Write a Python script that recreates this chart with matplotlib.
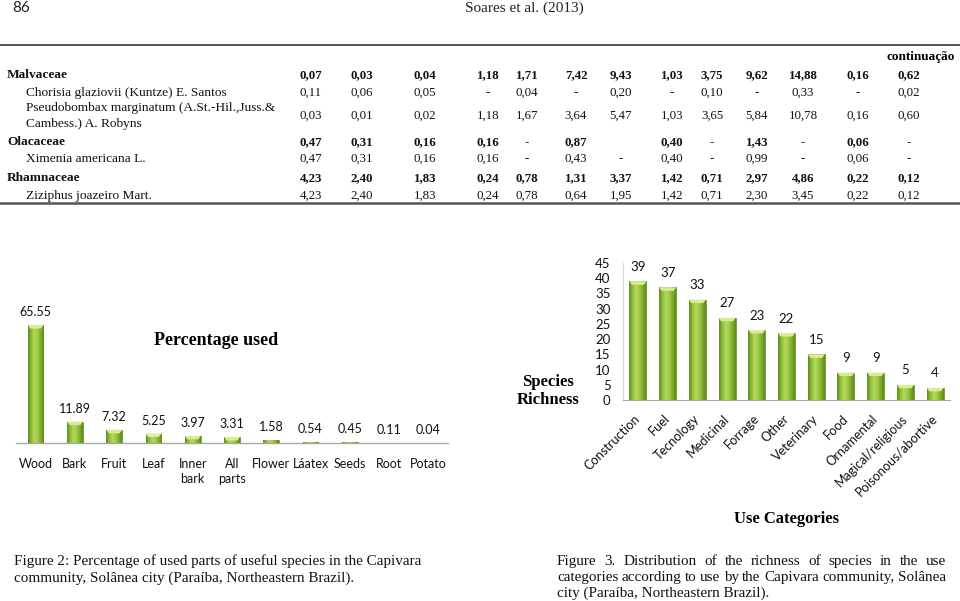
import numpy as np
import matplotlib
matplotlib.use("Agg")
import matplotlib.pyplot as plt
from matplotlib.colors import LinearSegmentedColormap
from matplotlib.patches import Polygon

# ---------------- data ----------------
table_names = ["Malvaceae", "Chorisia glaziovii (Kuntze) E. Santos",
               "Pseudobombax marginatum (A.St.-Hil.,Juss.&\nCambess.) A. Robyns",
               "Olacaceae", "Ximenia americana L.", "Rhamnaceae", "Ziziphus joazeiro Mart."]
table_bold = [True, False, False, True, False, True, False]
row_malvaceae = ["0,07", "0,03", "0,04", "1,18", "1,71", "7,42", "9,43", "1,03", "3,75", "9,62", "14,88", "0,16", "0,62"]
row_chorisia = ["0,11", "0,06", "0,05", "-", "0,04", "-", "0,20", "-", "0,10", "-", "0,33", "-", "0,02"]
row_pseudobombax = ["0,03", "0,01", "0,02", "1,18", "1,67", "3,64", "5,47", "1,03", "3,65", "5,84", "10,78", "0,16", "0,60"]
row_olacaceae = ["0,47", "0,31", "0,16", "0,16", "-", "0,87", "", "0,40", "-", "1,43", "-", "0,06", "-"]
row_ximenia = ["0,47", "0,31", "0,16", "0,16", "-", "0,43", "-", "0,40", "-", "0,99", "-", "0,06", "-"]
row_rhamnaceae = ["4,23", "2,40", "1,83", "0,24", "0,78", "1,31", "3,37", "1,42", "0,71", "2,97", "4,86", "0,22", "0,12"]
row_ziziphus = ["4,23", "2,40", "1,83", "0,24", "0,78", "0,64", "1,95", "1,42", "0,71", "2,30", "3,45", "0,22", "0,12"]
table_rows = [row_malvaceae, row_chorisia, row_pseudobombax, row_olacaceae,
              row_ximenia, row_rhamnaceae, row_ziziphus]

parts = ["Wood", "Bark", "Fruit", "Leaf", "Inner\nbark", "All\nparts", "Flower",
         "Láatex", "Seeds", "Root", "Potato"]
parts_pct = [65.55, 11.89, 7.32, 5.25, 3.97, 3.31, 1.58, 0.54, 0.45, 0.11, 0.04]

use_cats = ["Construction", "Fuel", "Tecnology", "Medicinal", "Forrage", "Other",
            "Veterinary", "Food", "Ornamental", "Magical/religious", "Poisonous/abortive"]
richness = [39, 37, 33, 27, 23, 22, 15, 9, 9, 5, 4]

caption2 = ["Figure 2: Percentage of used parts of useful species in the Capivara",
            "community, Solânea city (Paraíba, Northeastern Brazil)."]
caption3 = ["Figure 3. Distribution of the richness of species in the use",
            "categories according to use by the Capivara community, Solânea",
            "city (Paraíba, Northeastern Brazil)."]

# ---------------- layout helpers ----------------
W, H = 960, 601
fig = plt.figure(figsize=(W / 100, H / 100), dpi=100)
fig.patch.set_facecolor("white")
SERIF = "Liberation Serif"
SANS = "Lato"


def P(x, y):
    return x / W, 1 - y / H


def axes_px(l, t, r, b):
    return fig.add_axes([l / W, 1 - b / H, (r - l) / W, (b - t) / H])


def ftext(x, y, s, **kw):
    return fig.text(*P(x, y), s, **kw)


def hline(y, x0, x1, lw=1.2, color="#444444"):
    fig.add_artist(plt.Line2D([x0 / W, x1 / W], [1 - y / H, 1 - y / H],
                              transform=fig.transFigure, lw=lw, color=color))


# ---------------- page header ----------------
ftext(12, 8, "86", family=SANS, fontsize=11, va="center", ha="left", color="#222222")
ftext(524, 8, "Soares et al. (2013)", family=SERIF, fontsize=11, va="center", ha="center",
      color="#222222")

# ---------------- table ----------------
hline(45, 0, 960, lw=1.4, color="#555555")
hline(203.5, 0, 960, lw=1.8, color="#555555")
ftext(955, 57, "continuação", family=SERIF, fontsize=9.5, weight="bold", ha="right", va="center")
col_x = [311, 362, 425, 488, 527, 576, 621, 672, 712, 757, 803, 858, 909]
row_y = [75, 93, 116, 142, 159, 178, 196]
for name, bold, vals, y in zip(table_names, table_bold, table_rows, row_y):
    wt = "bold" if bold else "normal"
    xname = 7 if bold else 26
    ftext(xname, y, name, family=SERIF, fontsize=9.6, weight=wt, ha="left", va="center",
          linespacing=1.45, color="#111111")
    for x, v in zip(col_x, vals):
        ftext(x, y, v, family=SERIF, fontsize=9.3, weight=wt, ha="center", va="center",
              color="#111111")

# ---------------- bar styling ----------------
grad_cmap = LinearSegmentedColormap.from_list(
    "bar", ["#5F8C1C", "#8DBB38", "#B3D95C", "#A2CC4A", "#7FAD2C", "#5E8A1B"])
grad = np.linspace(0, 1, 128)[None, :]


def style_bars(ax, bars, xlim, ylim):
    ax.set_xlim(*xlim)
    ax.set_ylim(*ylim)
    inv = ax.transData.inverted()
    for b in bars:
        x0, w, h = b.get_x(), b.get_width(), b.get_height()
        if h <= 0:
            continue
        im = ax.imshow(grad, extent=[x0, x0 + w, 0, h], cmap=grad_cmap, aspect="auto",
                       zorder=3, interpolation="bilinear")
        im.set_clip_path(b)
        # light bevel at the top of the bar
        (X0, Y0), (X1, _) = ax.transData.transform([(x0, h), (x0 + w, h)])
        Y00 = ax.transData.transform((x0, 0))[1]
        if Y0 - Y00 >= 5:
            pts = inv.transform([(X0, Y0), (X1, Y0), (X1 - 2.5, Y0 - 3.5), (X0 + 2.5, Y0 - 3.5)])
            ax.add_patch(Polygon(pts, closed=True, facecolor="#D8EC95", edgecolor="none",
                                 zorder=4))
    ax.set_xlim(*xlim)
    ax.set_ylim(*ylim)


# ---------------- chart 1: percentage used ----------------
ax1 = axes_px(16, 317, 448, 443)
x1 = np.arange(len(parts))
bars1 = ax1.bar(x1, parts_pct, width=0.40, color="#8DBB38", edgecolor="#5E8A1B",
                linewidth=0.5, zorder=2)
style_bars(ax1, bars1, (-0.5, len(parts) - 0.5), (0, 70))
for xi, v in zip(x1, parts_pct):
    ax1.annotate(f"{v:.2f}", (xi, v), xytext=(0, 5), textcoords="offset points",
                 ha="center", va="bottom", family=SANS, fontsize=9, color="#111111")
for s in ["top", "right", "left"]:
    ax1.spines[s].set_visible(False)
ax1.spines["bottom"].set_color("#A6A6A6")
ax1.spines["bottom"].set_linewidth(1.0)
ax1.set_yticks([])
ax1.set_xticks(x1)
ax1.set_xticklabels(parts, family=SANS, fontsize=9, linespacing=1.25, va="top")
ax1.tick_params(axis="x", length=0, pad=11, colors="#111111")
ax1.patch.set_alpha(0)
ftext(216, 340, "Percentage used", family=SERIF, fontsize=13, weight="bold",
      ha="center", va="center")

# ---------------- chart 2: species richness ----------------
ax2 = axes_px(623, 263, 950, 400)
x2 = np.arange(len(use_cats))
bars2 = ax2.bar(x2, richness, width=0.57, color="#8DBB38", edgecolor="#5E8A1B",
                linewidth=0.5, zorder=2)
style_bars(ax2, bars2, (-0.5, len(use_cats) - 0.5), (0, 45))
for xi, v in zip(x2, richness):
    ax2.annotate(f"{v}", (xi, v), xytext=(0, 6), textcoords="offset points",
                 ha="center", va="bottom", family=SANS, fontsize=9.5, color="#111111")
for s in ["top", "right"]:
    ax2.spines[s].set_visible(False)
ax2.spines["bottom"].set_color("#A6A6A6")
ax2.spines["left"].set_color("#D9D9D9")
ax2.spines["left"].set_linewidth(0.8)
ax2.set_yticks(np.arange(0, 46, 5))
ax2.set_yticklabels([str(t) for t in range(0, 46, 5)], family=SANS, fontsize=9.5)
ax2.tick_params(axis="y", length=0, pad=9, colors="#111111")
ax2.set_xticks(x2)
ax2.set_xticklabels(use_cats, family=SANS, fontsize=9.2, rotation=45, ha="right",
                    va="center", rotation_mode="anchor")
ax2.tick_params(axis="x", length=0, pad=12, colors="#111111")
ax2.patch.set_alpha(0)
ftext(548, 382, "Species", family=SERIF, fontsize=12, weight="bold", ha="center", va="center")
ftext(548, 400, "Richness", family=SERIF, fontsize=12, weight="bold", ha="center", va="center")
ftext(787, 519, "Use Categories", family=SERIF, fontsize=12, weight="bold",
      ha="center", va="center")

# ---------------- captions ----------------
renderer = fig.canvas.get_renderer()
cap_fs = 10.9
BASE = 4  # baseline offset below the visual line centre, px


def justified(x0, x1, y, line):
    words = line.split(" ")
    arts, widths = [], []
    for w in words:
        t = ftext(0, y + BASE, w, family=SERIF, fontsize=cap_fs, ha="left",
                  va="baseline", color="#111111")
        widths.append(t.get_window_extent(renderer=renderer).width)
        arts.append(t)
    gap = (x1 - x0 - sum(widths)) / max(len(words) - 1, 1)
    x = x0
    for t, wd in zip(arts, widths):
        t.set_position(P(x, y + BASE))
        x += wd + gap


for i, line in enumerate(caption2):
    ftext(14, 561 + 17 * i + BASE, line, family=SERIF, fontsize=cap_fs, ha="left",
          va="baseline", color="#111111")
for i, line in enumerate(caption3):
    y = 561 + 16 * i
    if i < len(caption3) - 1:
        justified(557, 946, y, line)
    else:
        ftext(557, y + BASE, line, family=SERIF, fontsize=cap_fs, ha="left",
              va="baseline", color="#111111")

fig.savefig("out.png", dpi=100)
